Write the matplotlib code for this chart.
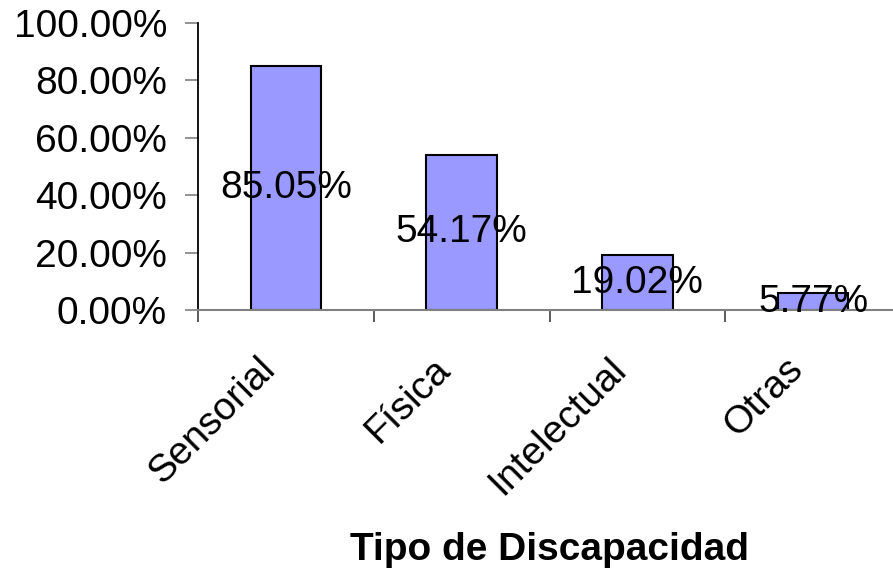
import matplotlib
matplotlib.use("Agg")
import matplotlib.pyplot as plt
import matplotlib.transforms as mtransforms
from matplotlib.ticker import FixedLocator, FuncFormatter

categories = ["Sensorial", "Física", "Intelectual", "Otras"]
values = [85.05, 54.17, 19.02, 5.77]
y_ticks = [0, 20, 40, 60, 80, 100]
x_label = "Tipo de Discapacidad"

plt.rcParams['font.family'] = ['Liberation Sans', 'DejaVu Sans']

fig = plt.figure(figsize=(8.93, 5.72), dpi=100)
ax = fig.add_axes([198/893, (572-310)/572, (901-198)/893, 287/572])

x = list(range(len(categories)))
ax.bar(x, values, width=0.4, color="#9999FF", edgecolor="black", linewidth=1.5, zorder=2)

for xi, v in zip(x, values):
    ax.text(xi, v/2, f"{v:.2f}%", ha="center", va="center", fontsize=28, zorder=3)

ax.set_xlim(-0.5, len(categories) - 0.5)
ax.set_ylim(0, 100)
ax.set_yticks(y_ticks)
ax.yaxis.set_major_formatter(FuncFormatter(lambda v, p: f"{v:.2f}%"))
ax.tick_params(axis="y", direction="out", length=9.4, width=1.2, color="#808080",
               pad=13, labelsize=28)

ax.set_xticks(x)
ax.set_xticklabels(categories, rotation=45, ha="right", rotation_mode="anchor", fontsize=28)
ax.xaxis.set_minor_locator(FixedLocator([i - 0.5 for i in range(len(categories) + 1)]))
ax.tick_params(axis="x", which="major", length=0, pad=28)
ax.tick_params(axis="x", which="minor", direction="out", length=8.6, width=1.2, color="#404040")

offset = mtransforms.ScaledTranslation(-0.29, -0.02, fig.dpi_scale_trans)
for lbl in ax.get_xticklabels():
    lbl.set_transform(lbl.get_transform() + offset)

for s in ["top", "right"]:
    ax.spines[s].set_visible(False)
ax.spines["left"].set_color("black")
ax.spines["left"].set_linewidth(1.3)
ax.spines["bottom"].set_color("#808080")
ax.spines["bottom"].set_linewidth(1.5)

ax.set_xlabel(x_label, fontsize=28, fontweight="bold")
ax.xaxis.set_label_coords(0.5, -0.835)
ax.xaxis.label.set_va("center")

fig.savefig("out.png", dpi=100)
